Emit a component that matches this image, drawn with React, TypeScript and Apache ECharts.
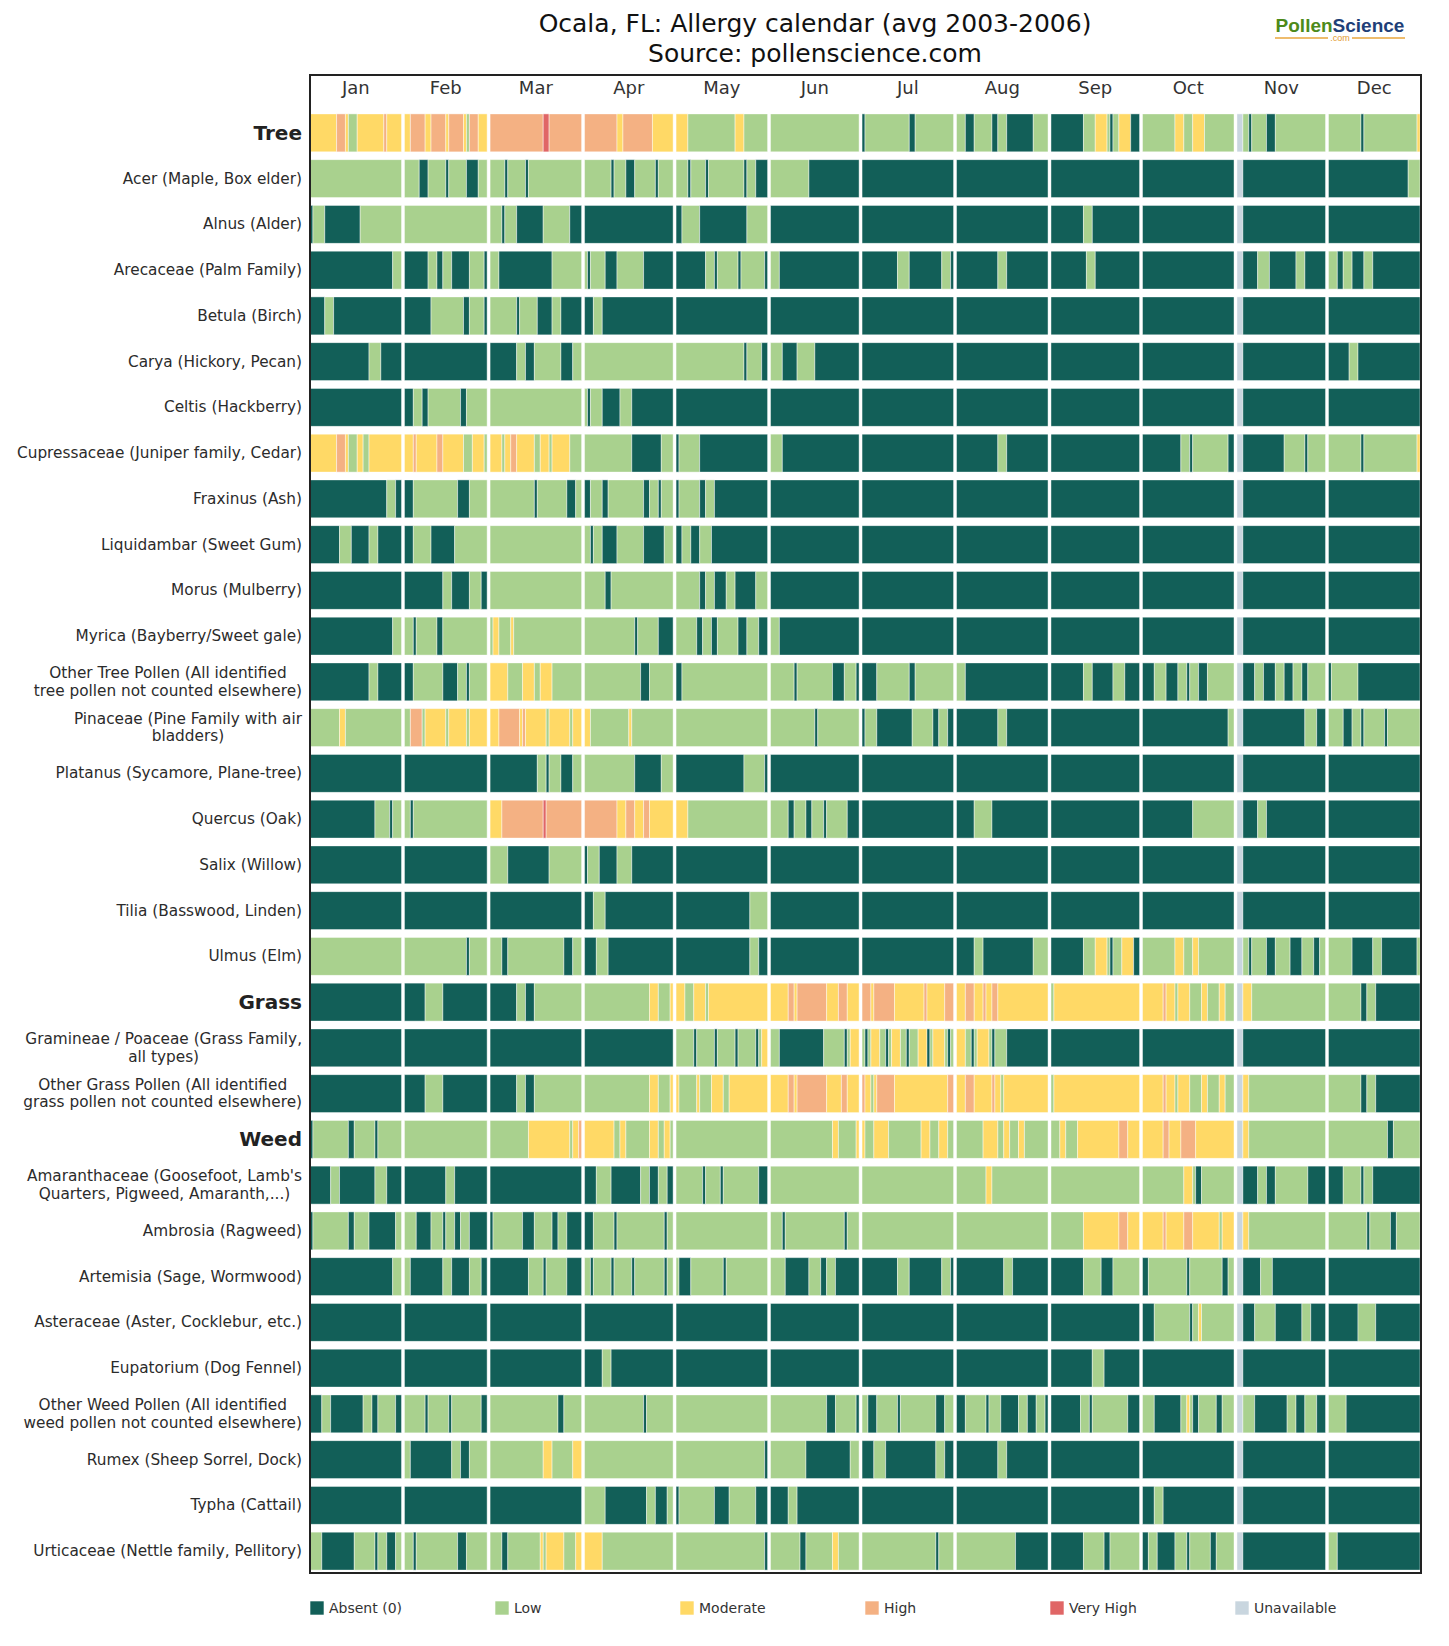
import React, { useEffect, useRef } from "react";
import * as echarts from "echarts";

// ---- calendar structure ----
const MONTHS = ["Jan", "Feb", "Mar", "Apr", "May", "Jun", "Jul", "Aug", "Sep", "Oct", "Nov", "Dec"];
const MONTH_DAYS = [31, 28, 31, 30, 31, 30, 31, 31, 30, 31, 30, 31];
const MONTH_GAP = 1; // blank space between months, in days

// ---- levels ----
const LEVEL_NAMES = ["Absent (0)", "Low", "Moderate", "High", "Very High", "Unavailable"];
const LEVEL_COLORS = ["#125f58", "#a9d18e", "#ffd966", "#f4b183", "#e06666", "#c9d6df"];

// ---- daily levels, one string per month, "level:days" runs ----
const tree = [
  "2:9 3:3 2:1 1:3 2:9 3:1 2:5",
  "2:2 3:5 2:2 3:5 2:1 3:5 2:1 1:1 3:3 2:3",
  "3:18 4:2 3:11",
  "3:11 2:2 3:10 2:7",
  "2:4 1:16 2:3 1:8",
  "1:30",
  "0:1 1:15 0:2 1:13",
  "1:3 0:3 1:6 0:2 1:3 0:9 1:5",
  "0:11 1:4 2:4 1:1 0:1 1:2 2:4 0:3",
  "1:11 2:3 1:3 2:4 1:10",
  "5:2 1:2 0:1 1:5 0:3 1:17",
  "1:11 0:1 1:18 2:1",
];
const acer = [
  "1:31",
  "1:5 0:3 1:6 0:1 1:6 0:4 1:3",
  "1:5 0:1 1:6 0:1 1:18",
  "1:9 0:1 1:4 0:3 1:7 0:1 1:5",
  "1:4 0:1 1:5 0:1 1:12 0:1 1:3 0:4",
  "1:13 0:17",
  "0:31", "0:31", "0:30", "0:31", "5:2 0:28", "0:27 1:4",
];
const alnus = [
  "0:1 1:4 0:12 1:14",
  "1:28",
  "1:4 0:1 1:4 0:9 1:9 0:4",
  "0:30",
  "0:2 1:6 0:16 1:7",
  "0:30",
  "0:31", "0:31", "0:11 1:3 0:16", "0:31", "5:2 0:28", "0:31",
];
const arecaceae = [
  "0:28 1:3",
  "0:8 1:3 0:2 1:3 0:6 1:5 0:1",
  "1:3 0:18 1:10",
  "1:1 0:1 1:5 0:4 1:9 0:10",
  "0:10 1:3 0:1 1:7 0:1 1:8 0:1",
  "1:3 0:27",
  "0:12 1:4 0:11 1:3 0:1",
  "0:14 1:3 0:14",
  "0:12 1:3 0:15",
  "0:31",
  "5:2 0:5 1:4 0:9 1:3 0:7",
  "1:3 0:2 1:3 0:4 1:3 0:16",
];
const betula = [
  "0:5 1:3 0:23",
  "0:9 1:11 0:2 1:5 0:1",
  "1:9 0:1 1:6 0:5 1:3 0:7",
  "0:3 1:3 0:24",
  "0:31", "0:30", "0:31", "0:31", "0:30", "0:31", "5:2 0:28", "0:31",
];
const carya = [
  "0:20 1:4 0:7",
  "0:28",
  "0:9 1:3 0:3 1:9 0:4 1:3",
  "1:30",
  "1:23 0:1 1:5 0:2",
  "1:4 0:5 1:6 0:15",
  "0:31", "0:31", "0:30", "0:31", "5:2 0:28", "0:7 1:3 0:21",
];
const celtis = [
  "0:31",
  "0:3 1:3 0:2 1:11 0:2 1:7",
  "1:31",
  "1:1 0:1 1:4 0:6 1:4 0:14",
  "0:31", "0:30", "0:31", "0:31", "0:30", "0:31", "5:2 0:28", "0:31",
];
const cupressaceae = [
  "2:9 3:3 2:1 1:3 2:2 1:2 2:11",
  "2:3 3:1 2:7 3:2 2:7 1:3 2:4 1:1",
  "2:4 1:1 2:2 3:2 2:6 1:2 2:3 1:1 2:6 1:4",
  "1:16 0:10 1:4",
  "0:1 1:7 0:23",
  "1:4 0:26",
  "0:31",
  "0:14 1:3 0:14",
  "0:30",
  "0:13 1:3 0:1 1:12 0:2",
  "5:2 0:14 1:7 0:1 1:6",
  "1:11 0:1 1:18 2:1",
];
const fraxinus = [
  "0:26 1:3 0:2",
  "0:3 1:15 0:4 1:6",
  "1:15 0:1 1:10 0:3 1:2",
  "0:2 1:4 0:2 1:12 0:2 1:3 0:1 1:4",
  "0:1 1:7 0:2 1:3 0:18",
  "0:30", "0:31", "0:31", "0:30", "0:31", "5:2 0:28", "0:31",
];
const liquidambar = [
  "0:10 1:4 0:6 1:3 0:8",
  "0:3 1:6 0:8 1:11",
  "1:31",
  "1:2 0:1 1:3 0:5 1:9 0:7 1:3",
  "0:2 1:3 0:3 1:4 0:19",
  "0:30", "0:31", "0:31", "0:30", "0:31", "5:2 0:28", "0:31",
];
const morus = [
  "0:31",
  "0:13 1:3 0:6 1:4 0:2",
  "1:31",
  "1:7 0:2 1:21",
  "1:8 0:2 1:3 0:4 1:3 0:7 1:4",
  "0:30", "0:31", "0:31", "0:30", "0:31", "5:2 0:28", "0:31",
];
const myrica = [
  "0:28 1:3",
  "1:3 0:1 1:7 0:2 1:15",
  "1:1 2:2 1:4 2:1 1:23",
  "1:17 0:1 1:7 0:5",
  "1:7 0:2 1:3 0:2 1:7 0:3 1:4 0:3",
  "1:3 0:27",
  "0:31", "0:31", "0:30", "0:31", "5:2 0:28", "0:31",
];
const otherTree = [
  "0:20 1:3 0:8",
  "0:3 1:10 0:5 1:3 0:1 1:6",
  "2:6 1:5 2:4 1:2 2:4 1:10",
  "1:19 0:3 1:8",
  "0:2 1:29",
  "1:8 0:1 1:12 0:4 1:4 0:1",
  "0:5 1:11 0:2 1:13",
  "1:3 0:28",
  "0:11 1:3 0:7 1:4 0:5",
  "0:4 1:4 0:4 1:3 0:1 1:3 0:3 1:9",
  "5:2 0:4 1:3 0:4 1:3 0:3 1:3 0:2 1:6",
  "0:1 1:9 0:21",
];
const pinaceae = [
  "1:10 2:2 1:19",
  "1:2 3:4 1:1 2:7 1:1 2:6 1:1 2:6",
  "2:3 3:7 2:1 3:1 2:7 1:1 2:7 1:1 2:3",
  "2:2 1:13 2:1 1:14",
  "1:31",
  "1:15 0:1 1:14",
  "0:1 1:4 0:12 1:7 0:2 1:3 0:2",
  "0:14 1:3 0:14",
  "0:30",
  "0:29 1:2",
  "5:2 0:21 1:4 0:3",
  "1:5 0:3 1:3 0:1 1:7 0:1 1:11",
];
const platanus = [
  "0:31", "0:28",
  "0:16 1:3 0:1 1:4 0:4 1:3",
  "1:17 0:9 1:4",
  "0:23 1:7 0:1",
  "0:30", "0:31", "0:31", "0:30", "0:31", "5:2 0:28", "0:31",
];
const quercus = [
  "0:22 1:5 0:1 1:3",
  "1:2 0:1 1:25",
  "2:4 3:14 4:1 3:12",
  "3:11 2:3 3:3 2:3 3:2 2:8",
  "2:4 1:27",
  "1:6 0:2 1:4 0:2 1:4 0:1 1:7 0:4",
  "0:31",
  "0:6 1:6 0:19",
  "0:30",
  "0:17 1:14",
  "5:2 0:5 1:3 0:20",
  "0:31",
];
const salix = [
  "0:31", "0:28",
  "1:6 0:14 1:11",
  "0:1 1:4 0:6 1:5 0:14",
  "0:31", "0:30", "0:31", "0:31", "0:30", "0:31", "5:2 0:28", "0:31",
];
const tilia = [
  "0:31", "0:28", "0:31",
  "0:3 1:4 0:23",
  "0:25 1:6",
  "0:30", "0:31", "0:31", "0:30", "0:31", "5:2 0:28", "0:31",
];
const ulmus = [
  "1:31",
  "1:21 0:1 1:6",
  "1:4 0:2 1:19 0:3 1:3",
  "0:4 1:4 0:22",
  "0:25 1:3 0:3",
  "0:30",
  "0:31",
  "0:6 1:3 0:17 1:5",
  "0:11 1:4 2:4 1:1 0:1 1:3 2:4 0:2",
  "1:11 2:3 1:3 2:2 1:12",
  "5:2 1:2 0:1 1:5 0:3 1:5 0:4 1:4 0:2 1:2",
  "1:8 0:7 1:3 0:12 1:1",
];
const grass = [
  "0:31",
  "0:7 1:6 0:15",
  "0:9 1:3 0:3 1:16",
  "1:22 2:3 1:4 2:1",
  "2:3 1:3 2:4 1:1 2:20",
  "2:6 3:2 2:1 3:10 2:4 3:3 2:4",
  "3:3 2:1 3:7 2:10 3:1 2:6 3:3",
  "2:3 3:3 2:3 3:1 2:2 3:2 2:17",
  "1:1 2:29",
  "2:7 3:1 2:3 1:1 2:4 1:4 2:2 1:4 2:2 1:3",
  "5:2 2:3 1:25",
  "1:11 0:2 1:3 0:15",
];
const gramineae = [
  "0:31", "0:28", "0:31", "0:30",
  "1:6 0:1 1:6 0:1 1:6 0:1 1:6 0:1 1:1 2:2",
  "1:3 0:15 1:7 0:1 1:1 2:3",
  "1:1 0:1 1:1 2:3 1:2 0:1 1:1 2:3 1:2 0:1 1:3 2:3 0:1 1:1 2:4 1:1 0:1 1:1",
  "2:3 1:2 0:1 1:1 2:4 1:1 0:1 1:4 0:14",
  "0:30", "0:31", "5:2 0:28", "0:31",
];
const otherGrass = [
  "0:31",
  "0:7 1:6 0:15",
  "0:9 1:3 0:3 1:16",
  "1:22 2:3 1:4 2:1",
  "2:1 1:6 2:1 1:4 2:4 1:2 2:13",
  "2:6 3:2 2:1 3:10 2:5 3:2 2:4",
  "3:1 2:2 1:1 2:1 3:6 2:18 3:2",
  "2:3 3:3 2:6 3:1 2:2 1:1 2:15",
  "1:1 2:29",
  "2:7 3:1 2:3 1:1 2:4 1:4 2:2 1:4 2:2 1:3",
  "5:2 2:2 1:26",
  "1:11 0:2 1:3 0:15",
];
const weed = [
  "0:1 1:12 0:2 1:7 0:1 1:8",
  "1:28",
  "1:13 2:14 1:1 2:2 3:1",
  "2:10 1:2 2:2 1:8 2:3 1:2 2:2 1:1",
  "1:31",
  "1:21 2:2 1:6 2:1",
  "2:1 1:3 2:5 1:11 2:3 1:3 2:3 1:2",
  "1:9 2:5 1:2 2:2 1:3 2:2 1:8",
  "1:3 2:2 1:4 2:14 3:3 2:4",
  "2:7 3:2 2:4 3:5 2:13",
  "5:2 2:2 1:26",
  "1:20 0:2 1:9",
];
const amaranthaceae = [
  "0:7 1:3 0:12 1:4 0:5",
  "0:14 1:3 0:11",
  "0:31",
  "0:4 1:5 0:10 1:3 0:3 1:3 0:2",
  "1:9 0:1 1:5 0:1 1:12 0:3",
  "1:30",
  "1:31",
  "1:10 2:2 1:19",
  "1:30",
  "1:14 2:3 1:1 0:2 1:11",
  "5:2 0:5 1:3 0:3 1:11 0:6",
  "0:5 1:6 0:1 1:3 0:16",
];
const ambrosia = [
  "0:1 1:12 0:2 1:5 0:9 1:2",
  "1:4 0:5 1:4 0:1 1:3 0:2 1:3 0:6",
  "0:1 1:10 0:4 1:6 0:2 1:3 0:5",
  "0:3 1:7 0:1 1:16 0:1 1:2",
  "1:31",
  "1:4 0:1 1:20 0:1 1:4",
  "1:31",
  "1:31",
  "1:11 2:12 3:3 2:4",
  "2:7 3:1 2:6 3:3 2:9 1:1 2:4",
  "5:2 2:2 1:26",
  "1:13 0:1 1:7 0:2 1:8",
];
const artemisia = [
  "0:28 1:3",
  "1:2 0:11 1:3 0:6 1:4 0:2",
  "0:13 1:5 0:1 1:7 0:5",
  "1:2 0:1 1:6 0:1 1:6 0:1 1:10 0:1 1:2",
  "1:1 0:4 1:11 0:1 1:14",
  "1:5 0:8 1:4 0:2 1:3 0:8",
  "0:12 1:4 0:11 1:3 0:1",
  "0:16 1:3 0:12",
  "0:11 1:6 0:4 1:9",
  "0:2 1:13 0:1 1:11 0:2 1:2",
  "5:2 0:6 1:4 0:18",
  "0:31",
];
const asteraceae = [
  "0:31", "0:28", "0:31", "0:30", "0:31", "0:30", "0:31", "0:31", "0:30",
  "0:4 1:12 0:1 1:2 2:1 1:11",
  "5:2 0:4 1:7 0:9 1:3 0:5",
  "0:10 1:6 0:15",
];
const eupatorium = [
  "0:31", "0:28", "0:31",
  "0:6 1:3 0:21",
  "0:31", "0:30", "0:31", "0:31",
  "0:14 1:4 0:12",
  "0:31", "5:2 0:28", "0:31",
];
const otherWeed = [
  "0:4 1:3 0:11 1:3 0:2 1:6 0:2",
  "1:7 0:1 1:7 0:1 1:10 0:2",
  "1:23 0:2 1:6",
  "1:20 0:1 1:9",
  "1:31",
  "1:19 0:3 1:7 0:1",
  "1:2 0:3 1:7 0:1 1:12 0:3 1:3",
  "0:3 1:7 0:1 1:4 0:6 1:3 0:3 1:3 0:1",
  "0:10 1:3 0:1 1:12 0:4",
  "1:4 0:9 1:2 2:1 1:1 0:2 1:6 0:2 1:4",
  "5:2 1:4 0:11 1:3 0:3 1:4 0:3",
  "1:6 0:25",
];
const rumex = [
  "0:31",
  "1:2 0:14 1:3 0:3 1:6",
  "1:18 2:3 1:7 2:3",
  "1:30",
  "1:30 0:1",
  "1:12 0:15 1:3",
  "0:4 1:4 0:17 1:3 0:3",
  "0:14 1:3 0:14",
  "0:30", "0:31", "5:2 0:28", "0:31",
];
const typha = [
  "0:31", "0:28", "0:31",
  "1:7 0:14 1:3 0:4 1:2",
  "0:1 1:12 0:5 1:9 0:4",
  "0:6 1:3 0:21",
  "0:31", "0:31", "0:30",
  "0:4 1:3 0:24",
  "5:2 0:28", "0:31",
];
const urticaceae = [
  "1:4 0:11 1:7 0:1 1:3 0:3 1:2",
  "1:3 0:1 1:14 0:3 1:7",
  "1:4 0:2 1:11 2:1 1:1 2:6 1:4 2:2",
  "2:6 1:24",
  "1:30 0:1",
  "1:10 0:2 1:9 2:2 1:7",
  "1:25 0:1 1:5",
  "1:20 0:11",
  "0:11 1:7 0:2 1:10",
  "0:2 1:3 0:6 1:4 0:1 1:7 0:2 1:6",
  "5:2 0:28",
  "1:3 0:28",
];

// ---- row labels, top to bottom ----
const ROW_LABELS = [
  "Tree",
  "Acer (Maple, Box elder)",
  "Alnus (Alder)",
  "Arecaceae (Palm Family)",
  "Betula (Birch)",
  "Carya (Hickory, Pecan)",
  "Celtis (Hackberry)",
  "Cupressaceae (Juniper family, Cedar)",
  "Fraxinus (Ash)",
  "Liquidambar (Sweet Gum)",
  "Morus (Mulberry)",
  "Myrica (Bayberry/Sweet gale)",
  "Other Tree Pollen (All identified\ntree pollen not counted elsewhere)",
  "Pinaceae (Pine Family with air\nbladders)",
  "Platanus (Sycamore, Plane-tree)",
  "Quercus (Oak)",
  "Salix (Willow)",
  "Tilia (Basswood, Linden)",
  "Ulmus (Elm)",
  "Grass",
  "Gramineae / Poaceae (Grass Family,\nall types)",
  "Other Grass Pollen (All identified\ngrass pollen not counted elsewhere)",
  "Weed",
  "Amaranthaceae (Goosefoot, Lamb's\nQuarters, Pigweed, Amaranth,...)",
  "Ambrosia (Ragweed)",
  "Artemisia (Sage, Wormwood)",
  "Asteraceae (Aster, Cocklebur, etc.)",
  "Eupatorium (Dog Fennel)",
  "Other Weed Pollen (All identified\nweed pollen not counted elsewhere)",
  "Rumex (Sheep Sorrel, Dock)",
  "Typha (Cattail)",
  "Urticaceae (Nettle family, Pellitory)",
];
const ROW_DATA = [
  tree, acer, alnus, arecaceae, betula, carya, celtis, cupressaceae, fraxinus,
  liquidambar, morus, myrica, otherTree, pinaceae, platanus, quercus, salix,
  tilia, ulmus, grass, gramineae, otherGrass, weed, amaranthaceae, ambrosia,
  artemisia, asteraceae, eupatorium, otherWeed, rumex, typha, urticaceae,
];
const GROUP_ROWS = ["Tree", "Grass", "Weed"];

// ---- derived layout of the day axis ----
const MONTH_START: number[] = [];
{
  let acc = 0;
  MONTH_DAYS.forEach((d, i) => {
    MONTH_START.push(acc + i * MONTH_GAP);
    acc += d;
  });
}
const AXIS_MAX = MONTH_START[11] + MONTH_DAYS[11];
const MONTH_CENTERS = MONTH_START.map((s, i) => s + MONTH_DAYS[i] / 2);

// One item per run: [row, xFrom, xTo, level]
function buildCells() {
  const out: number[][] = [];
  ROW_DATA.forEach((months, r) => {
    months.forEach((txt, m) => {
      const runs = txt.trim().split(/\s+/).map((t) => t.split(":").map(Number));
      const total = runs.reduce((s, x) => s + x[1], 0);
      const scale = MONTH_DAYS[m] / total;
      let pos = MONTH_START[m];
      runs.forEach(([lv, n]) => {
        const w = n * scale;
        out.push([r, pos, pos + w, lv]);
        pos += w;
      });
    });
  });
  return out;
}

const FONT = "DejaVu Sans";
const BAND = 0.83;

function buildOption() {
  const cells = buildCells();
  const legendItems = LEVEL_NAMES.map((name, i) => ({
    type: "group",
    x: 310 + i * 185,
    y: 1601,
    children: [
      {
        type: "rect",
        shape: { x: 0, y: 0, width: 14, height: 14 },
        style: { fill: LEVEL_COLORS[i], stroke: "rgba(255,255,255,0.6)", lineWidth: 1 },
      },
      {
        type: "text",
        x: 19,
        y: 7,
        style: {
          text: name,
          fontFamily: FONT,
          fontSize: 14,
          fill: "#333",
          textVerticalAlign: "middle",
        },
      },
    ],
  }));

  return {
    animation: false,
    backgroundColor: "#ffffff",
    grid: { left: 310, right: 29, top: 110, bottom: 72, containLabel: false },
    xAxis: {
      type: "value",
      min: 0,
      max: AXIS_MAX,
      position: "top",
      axisLine: { show: false },
      axisTick: { show: false },
      splitLine: { show: false },
      axisLabel: {
        customValues: MONTH_CENTERS,
        margin: 14,
        fontSize: 18,
        fontFamily: FONT,
        color: "#333",
        formatter: (v: number) => {
          let best = 0;
          MONTH_CENTERS.forEach((c, i) => {
            if (Math.abs(c - v) < Math.abs(MONTH_CENTERS[best] - v)) best = i;
          });
          return MONTHS[best];
        },
      },
    },
    yAxis: {
      type: "category",
      data: ROW_LABELS,
      inverse: true,
      axisLine: { show: false },
      axisTick: { show: false },
      splitLine: { show: false },
      axisLabel: {
        interval: 0,
        margin: 8,
        formatter: (v: string) =>
          GROUP_ROWS.includes(v)
            ? `{g|${v}}`
            : v.split("\n").map((l) => `{n|${l}}`).join("\n"),
        rich: {
          g: { fontSize: 20, fontWeight: "bold", fontFamily: FONT, color: "#222" },
          n: { fontSize: 15.3, fontFamily: FONT, color: "#2b2b2b", align: "center", lineHeight: 17.5 },
        },
      },
    },
    series: [
      {
        type: "custom",
        data: cells,
        encode: { x: [1, 2], y: 0 },
        renderItem: (_params: any, api: any) => {
          const r = api.value(0);
          const a = api.coord([api.value(1), r]);
          const b = api.coord([api.value(2), r]);
          const h = api.size([0, 1])[1] * BAND;
          return {
            type: "rect",
            shape: { x: a[0], y: a[1] - h / 2, width: b[0] - a[0], height: h },
            style: {
              fill: LEVEL_COLORS[api.value(3)],
              stroke: "rgba(255,255,255,0.55)",
              lineWidth: 0.8,
            },
          };
        },
      },
    ],
    graphic: [
      {
        type: "text",
        x: 815,
        y: 38,
        style: {
          text: "Ocala, FL: Allergy calendar (avg 2003-2006)\nSource: pollenscience.com",
          fontFamily: FONT,
          fontSize: 25,
          lineHeight: 30,
          fill: "#111",
          textAlign: "center",
          textVerticalAlign: "middle",
        },
      },
      {
        type: "rect",
        silent: true,
        z: 10,
        shape: { x: 310, y: 75, width: 1111, height: 1498 },
        style: { fill: "none", stroke: "#222", lineWidth: 2 },
      },
      // brand mark, top right
      {
        type: "text",
        x: 1340,
        y: 25,
        style: {
          text: "{p|Pollen}{s|Science}",
          textAlign: "center",
          textVerticalAlign: "middle",
          rich: {
            p: { fontFamily: "Liberation Sans", fontWeight: "bold", fontSize: 19, fill: "#4d8a1a" },
            s: { fontFamily: "Liberation Sans", fontWeight: "bold", fontSize: 19, fill: "#1f3f78" },
          },
        },
      },
      {
        type: "line",
        shape: { x1: 1275, y1: 38, x2: 1328, y2: 38 },
        style: { stroke: "#e8a63c", lineWidth: 1.5 },
      },
      {
        type: "line",
        shape: { x1: 1352, y1: 38, x2: 1405, y2: 38 },
        style: { stroke: "#e8a63c", lineWidth: 1.5 },
      },
      {
        type: "text",
        x: 1340,
        y: 38,
        style: {
          text: ".com",
          fontFamily: "Liberation Sans",
          fontSize: 9,
          fill: "#e39b2f",
          textAlign: "center",
          textVerticalAlign: "middle",
        },
      },
      ...legendItems,
    ],
  };
}

export default function App() {
  const ref = useRef<HTMLDivElement>(null);
  useEffect(() => {
    document.body.style.margin = "0";
    const chart = echarts.init(ref.current!, null, { renderer: "svg" });
    chart.setOption(buildOption() as any);
    return () => chart.dispose();
  }, []);
  return <div ref={ref} style={{ width: 1449, height: 1646 }} />;
}
